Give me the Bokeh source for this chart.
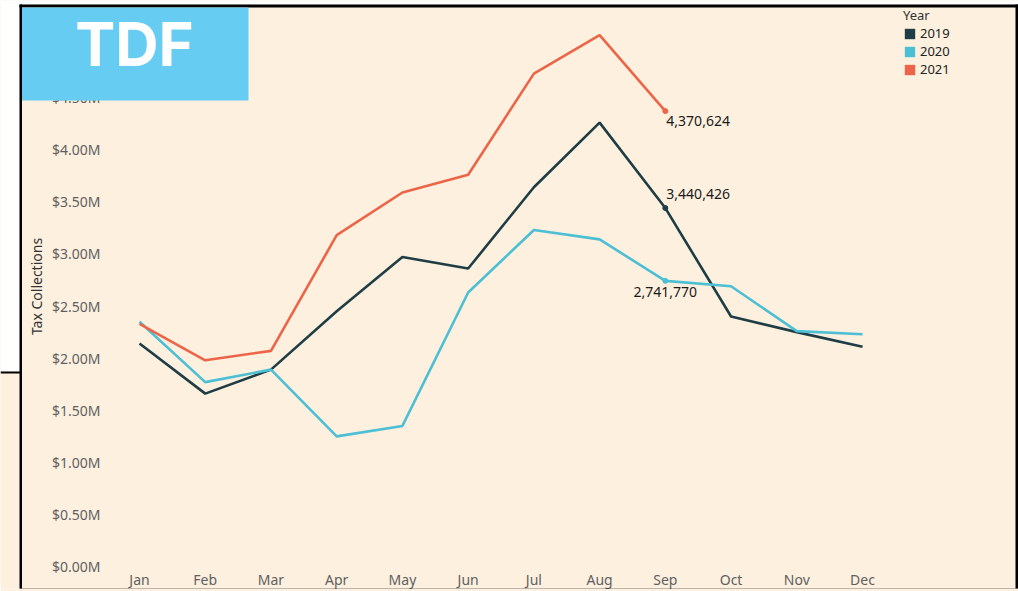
import math
from bokeh.plotting import figure
from bokeh.models import (Range1d, FixedTicker, CustomJSTickFormatter,
                          Legend, LegendItem, BoxAnnotation, Label)
from bokeh.embed import file_html
from bokeh.resources import INLINE
from bokeh.core.properties import value

months = ["Jan", "Feb", "Mar", "Apr", "May", "Jun", "Jul", "Aug", "Sep", "Oct", "Nov", "Dec"]
years = ["2019", "2020", "2021"]
tax_2019 = [2140000, 1660000, 1890000, 2450000, 2970000, 2860000, 3640000, 4260000, 3440426, 2400000, 2250000, 2110000]
tax_2020 = [2350000, 1770000, 1890000, 1250000, 1350000, 2630000, 3230000, 3140000, 2741770, 2690000, 2260000, 2230000]
tax_2021 = [2330000, 1980000, 2070000, 3180000, 3590000, 3760000, 4730000, 5100000, 4370624]
y_ticks = [0, 500000, 1000000, 1500000, 2000000, 2500000, 3000000, 3500000, 4000000, 4500000, 5000000]
sep_labels = ["3,440,426", "2,741,770", "4,370,624"]

colors = {"2019": "#1E3D45", "2020": "#4DBFD5", "2021": "#EC6548"}
BG = "#FDF0DF"
FONT = "Noto Sans"
month_idx = list(range(len(months)))

p = figure(width=1018, height=591, output_backend="svg", toolbar_location=None,
           x_range=Range1d(-2.115, 13.373), y_range=Range1d(-210000, 5432000),
           min_border_left=0, min_border_right=0, min_border_top=0, min_border_bottom=0)
p.background_fill_color = BG
p.border_fill_color = BG
p.outline_line_color = None
p.xgrid.visible = False
p.ygrid.visible = False

# axes (tick labels drawn inside the frame)
p.yaxis.ticker = FixedTicker(ticks=y_ticks)
p.yaxis.formatter = CustomJSTickFormatter(code="return '$' + (tick/1e6).toFixed(2) + 'M';")
p.xaxis.ticker = FixedTicker(ticks=month_idx)
p.xaxis.major_label_overrides = {i: m for i, m in zip(month_idx, months)}
for ax in (p.xaxis[0], p.yaxis[0]):
    ax.axis_line_color = None
    ax.major_tick_line_color = None
    ax.minor_tick_line_color = None
    ax.major_tick_in = 0
    ax.major_tick_out = 0
    ax.minor_tick_in = 0
    ax.minor_tick_out = 0
    ax.major_label_text_font = FONT
    ax.major_label_text_font_size = "14px"
    ax.major_label_text_color = "#5f5f5f"
p.yaxis.major_label_standoff = -100
p.xaxis.major_label_standoff = -19

# lines
series = {"2019": tax_2019, "2020": tax_2020, "2021": tax_2021}
for yr in years:
    vals = series[yr]
    p.line(x=month_idx[:len(vals)], y=vals, line_color=colors[yr], line_width=2.6)
    p.scatter(x=[month_idx[8]], y=[vals[8]], size=5, fill_color=colors[yr], line_color=colors[yr])

# Sep annotations
ann_offsets = {"2019": (1, -14, "left"), "2020": (0, 11, "center"), "2021": (1, 10, "left")}
for yr, lab in zip(years, sep_labels):
    dx, dy, al = ann_offsets[yr]
    p.text(x=[month_idx[8]], y=[series[yr][8]], text=[lab], x_offset=dx, y_offset=dy,
           text_align=al, text_baseline="middle", text_font=value(FONT),
           text_font_size="14px", text_color="#1a1a1a")

# y axis title
p.add_layout(Label(x=36, y=286, x_units="canvas", y_units="canvas", text="Tax Collections",
                   angle=math.pi / 2, text_align="center", text_baseline="middle",
                   text_font=FONT, text_font_size="14px", text_color="#333333"))

# legend (square swatches from zero-area quads)
items = []
for yr in years:
    r = p.quad(left=[0], right=[0], top=[0], bottom=[0], fill_color=colors[yr], line_color=None)
    items.append(LegendItem(label=yr, renderers=[r]))
legend = Legend(items=items, title="Year", location=(903, 510), margin=0, padding=2,
                spacing=0, glyph_width=13, glyph_height=13, label_height=14, label_standoff=4,
                background_fill_alpha=0, border_line_color=None,
                label_text_font=FONT, label_text_font_size="13px", label_text_color="#222222",
                title_text_font=FONT, title_text_font_size="13px", title_text_font_style="normal",
                title_text_color="#333333", title_standoff=0)
p.add_layout(legend)

# frame decoration in canvas coordinates
def cbox(l, r, t, b, color):
    return BoxAnnotation(left=l, right=r, top=t, bottom=b,
                         left_units="canvas", right_units="canvas",
                         top_units="canvas", bottom_units="canvas",
                         fill_color=color, fill_alpha=1.0, line_color=None, level="overlay")

p.add_layout(cbox(0, 1018, 0, 4, "white"))
p.add_layout(cbox(0, 19, 0, 371, "white"))
p.add_layout(cbox(0, 20, 371, 373, "black"))
p.add_layout(cbox(19, 21.5, 4, 591, "black"))
p.add_layout(cbox(19, 1018, 4, 7, "black"))
p.add_layout(cbox(1015, 1018, 4, 591, "black"))
p.add_layout(cbox(19, 1018, 588, 591, "black"))
p.add_layout(cbox(21.5, 248, 7, 100, "#66CCF2"))
p.add_layout(Label(x=134, y=43, x_units="canvas", y_units="canvas", text="TDF",
                   text_align="center", text_baseline="middle", text_color="white",
                   text_font="Inter", text_font_size="60px", text_font_style="bold",
                   level="overlay"))

open("out.html", "w").write(file_html(p, INLINE))
